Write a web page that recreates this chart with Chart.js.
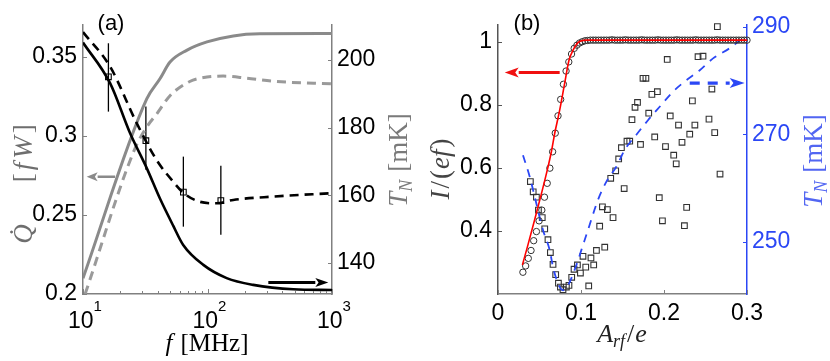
<!DOCTYPE html>
<html>
<head>
<meta charset="utf-8">
<script src="https://cdn.jsdelivr.net/npm/chart.js@4.4.1/dist/chart.umd.min.js"></script>
<style>
	body { margin: 0; background: #fff; }
	canvas { position: absolute; top: 0; }
</style>
</head>
<body>
<canvas id="chartA" width="415" height="361" style="left:0"></canvas>
<canvas id="chartB" width="415" height="361" style="left:415px"></canvas>
<script>
// ---------- panel (a) data ----------
// heat flow Q (left axis), grey curves
const fQSolid = [10, 32.5, 41.5, 50, 68, 99, 161, 263, 1000]
const qSolid = [0.210, 0.3233, 0.336, 0.3466, 0.354, 0.3593, 0.3631, 0.3644, 0.3646]
const fQDashed = [10.4, 26, 32.8, 39, 50, 72, 99, 134, 206, 359, 1000]
const qDashed = [0.200, 0.2915, 0.306, 0.3137, 0.3253, 0.3343, 0.3371, 0.3377, 0.3364, 0.3343, 0.3328]
// electron temperature T_N (right axis), black curves
const fTSolid = [10, 16.5, 23.9, 32.5, 41.5, 53, 63.8, 92.6, 142.6, 233, 489, 1000]
const tSolid = [205.1, 193.1, 178.3, 168, 159, 151, 145.3, 139.4, 135.5, 133.5, 132.2, 132.0]
const fTDashed = [10, 16.5, 27, 39, 53, 65, 86, 118, 161, 338, 1000]
const tDashed = [208.2, 198, 181.3, 170.4, 164, 160.5, 158.1, 157.6, 158.6, 159.6, 160.6]
// measured points with error bars
const fMeas = [16, 32, 64, 128]
const tMeas = [195, 176.1, 160.9, 158.4]
const tErrLo = [184.7, 167.5, 150.7, 148.3]
const tErrHi = [204.9, 186.2, 171.4, 168.7]
// ticks
const fTicks = [10, 100, 1000]
const fTickExp = ['1', '2', '3']
const fMinor = [20, 30, 40, 50, 60, 70, 80, 90, 200, 300, 400, 500, 600, 700, 800, 900]
const qTicks = [0.2, 0.25, 0.3, 0.35]
const tTicksA = [140, 160, 180, 200]
// arrows [x1, y1, x2, y2] in data units
const arrowQ = [18.1, 0.2741, 10.7, 0.2741]
const arrowT = [308, 134.2, 934, 134.2]

// ---------- panel (b) data ----------
const aCirc = [0.0300, 0.0333, 0.0365, 0.0398, 0.0430, 0.0463, 0.0495, 0.0528, 0.0560, 0.0593,
	0.0625, 0.0658, 0.0690, 0.0723, 0.0755, 0.0788, 0.0820, 0.0853, 0.0886, 0.0918,
	0.0951, 0.0983, 0.1016, 0.1048, 0.1081, 0.1113, 0.1146, 0.1178, 0.1211, 0.1243,
	0.1276, 0.1308, 0.1341, 0.1373, 0.1406, 0.1439, 0.1471, 0.1504, 0.1536, 0.1569,
	0.1601, 0.1634, 0.1666, 0.1699, 0.1731, 0.1764, 0.1796, 0.1829, 0.1861, 0.1894,
	0.1927, 0.1959, 0.1992, 0.2024, 0.2057, 0.2089, 0.2122, 0.2154, 0.2187, 0.2219,
	0.2252, 0.2284, 0.2317, 0.2349, 0.2382, 0.2414, 0.2447, 0.2480, 0.2512, 0.2545,
	0.2577, 0.2610, 0.2642, 0.2675, 0.2707, 0.2740, 0.2772, 0.2805, 0.2837, 0.2870,
	0.2902, 0.2935, 0.2967, 0.3000]
const iCirc = [0.269, 0.289, 0.313, 0.338, 0.369, 0.398, 0.432, 0.466, 0.507, 0.551,
	0.599, 0.651, 0.710, 0.765, 0.817, 0.865, 0.907, 0.936, 0.961, 0.979,
	0.989, 0.996, 1.000, 1.003, 1.004, 1.005, 1.005, 1.005, 1.005, 1.005,
	1.005, 1.005, 1.005, 1.006, 1.005, 1.005, 1.005, 1.005, 1.006, 1.005,
	1.005, 1.005, 1.005, 1.005, 1.006, 1.005, 1.005, 1.005, 1.005, 1.005,
	1.006, 1.005, 1.005, 1.005, 1.005, 1.005, 1.005, 1.006, 1.005, 1.005,
	1.005, 1.005, 1.005, 1.005, 1.006, 1.005, 1.005, 1.005, 1.005, 1.005,
	1.005, 1.005, 1.006, 1.005, 1.005, 1.005, 1.005, 1.005, 1.005, 1.005,
	1.005, 1.005, 1.005, 1.005]
// red fit of I/(ef)
const aFit = [0.0294, 0.0360, 0.0440, 0.0520, 0.0600, 0.0643, 0.0683, 0.0743, 0.0803, 0.0856, 0.0904, 0.0964, 0.1065, 0.3000]
const iFit = [0.292, 0.355, 0.434, 0.515, 0.600, 0.651, 0.709, 0.783, 0.868, 0.942, 0.973, 0.997, 1.005, 1.005]
// T_N squares (right axis)
const aSq = [0.0390, 0.0424, 0.0463, 0.0487, 0.0533, 0.0563, 0.0602, 0.0631, 0.0663, 0.0695,
	0.0728, 0.0752, 0.0783, 0.0824, 0.0855, 0.0888, 0.0916, 0.0957, 0.0993, 0.1024,
	0.1057, 0.1093, 0.1120, 0.1153, 0.1186, 0.1286, 0.1225, 0.1258, 0.1318, 0.1386,
	0.1358, 0.1418, 0.1454, 0.1487, 0.1520, 0.1554, 0.1587, 0.1614, 0.1651, 0.1681,
	0.1717, 0.1747, 0.1782, 0.1816, 0.1854, 0.1888, 0.1920, 0.1943, 0.1981, 0.2018,
	0.2039, 0.2075, 0.2117, 0.2147, 0.2175, 0.2217, 0.2246, 0.2273, 0.2310, 0.2342,
	0.2372, 0.2410, 0.2470, 0.2542, 0.2577, 0.2611, 0.2643, 0.2675]
const tSq = [261.2, 259.3, 258.3, 255.9, 254.5, 252.4, 250.4, 248.0, 245.8, 243.9,
	242.3, 241.6, 241.1, 241.6, 241.9, 243.4, 244.9, 245.7, 244.2, 247.3,
	245.3, 241.8, 247.0, 245.7, 248.4, 249.0, 252.9, 256.5, 256.0, 254.5,
	261.8, 263.2, 265.4, 267.5, 259.9, 268.7, 268.7, 272.7, 275.0, 275.9,
	268.1, 280.4, 280.4, 273.9, 277.4, 269.5, 277.9, 258.2, 253.9, 267.7,
	283.9, 273.4, 266.1, 264.5, 271.7, 268.5, 253.0, 256.4, 270.0, 276.2,
	271.7, 284.4, 284.5, 272.8, 278.4, 270.3, 290.0, 262.6]
// blue dashed fit of T_N
const aTFit = [0.0301, 0.0382, 0.0442, 0.0542, 0.0622, 0.0663, 0.0723, 0.0783, 0.0843, 0.0945,
	0.1005, 0.1084, 0.1205, 0.1306, 0.1427, 0.1527, 0.1667, 0.1807, 0.1948, 0.2108,
	0.2249, 0.2431, 0.2591, 0.2793, 0.2953, 0.3000]
const tTFit = [266.1, 262.1, 258.4, 252.2, 248.5, 245.3, 242.3, 241.0, 241.9, 245.7,
	248.5, 252.2, 257.8, 261.2, 264.0, 267.1, 269.9, 272.6, 275.1, 277.9,
	279.8, 281.9, 284.1, 286.0, 287.8, 288.1]
const aTicks = [0, 0.1, 0.2, 0.3]
const iTicks = [0.4, 0.6, 0.8, 1]
const tTicksB = [250, 270, 290]
const arrowI = [0.0743, 0.902, 0.0081, 0.902]
const arrowTB = [0.2310, 279.5, 0.2972, 279.5]

// ---------- helpers ----------
const pts = (xs, ys) => xs.map((x, i) => ({ x: x, y: ys[i] }))
const tickFont = { family: '"Liberation Sans", Arial, sans-serif', size: 23 }
const sans = '"Liberation Sans", Arial, sans-serif'
const serif = '"Liberation Serif", "DejaVu Serif", serif'
const fixTicks = vals => s => { s.ticks = vals.map(v => ({ value: v })) }

function drawRich(ctx, segs, cx, cy, rot, color) {
	ctx.save()
	ctx.translate(cx, cy)
	if (rot) ctx.rotate(rot)
	ctx.fillStyle = color
	ctx.textAlign = 'left'
	ctx.textBaseline = 'alphabetic'
	let w = 0
	segs.forEach(s => { ctx.font = s.font; s.w = ctx.measureText(s.text).width; w += s.w + (s.gap || 0) })
	let x = -w / 2
	segs.forEach(s => { ctx.font = s.font; ctx.fillText(s.text, x, 9 + (s.dy || 0)); x += s.w + (s.gap || 0) })
	ctx.restore()
}

function drawArrow(ctx, x1, y1, x2, y2, color, width, dash, headLen, headW) {
	const ang = Math.atan2(y2 - y1, x2 - x1)
	const bx = x2 - headLen * Math.cos(ang), by = y2 - headLen * Math.sin(ang)
	ctx.save()
	ctx.strokeStyle = color
	ctx.fillStyle = color
	ctx.lineWidth = width
	ctx.setLineDash(dash || [])
	ctx.beginPath()
	ctx.moveTo(x1, y1)
	ctx.lineTo(bx, by)
	ctx.stroke()
	ctx.setLineDash([])
	ctx.beginPath()
	ctx.moveTo(x2, y2)
	ctx.lineTo(bx + headW / 2 * Math.sin(ang), by - headW / 2 * Math.cos(ang))
	ctx.lineTo(bx + headLen * 0.25 * Math.cos(ang), by + headLen * 0.25 * Math.sin(ang))
	ctx.lineTo(bx - headW / 2 * Math.sin(ang), by + headW / 2 * Math.cos(ang))
	ctx.closePath()
	ctx.fill()
	ctx.restore()
}

// inward tick marks
function innerTicks(ctx, chart, scale, values, len, color, side) {
	const a = chart.chartArea
	ctx.save()
	ctx.strokeStyle = color
	ctx.lineWidth = 1
	values.forEach(v => {
		const p = Math.round(scale.getPixelForValue(v)) + 0.5
		ctx.beginPath()
		if (side === 'left') { ctx.moveTo(a.left, p); ctx.lineTo(a.left + len, p) }
		if (side === 'right') { ctx.moveTo(a.right, p); ctx.lineTo(a.right - len, p) }
		if (side === 'bottom') { ctx.moveTo(p, a.bottom); ctx.lineTo(p, a.bottom - len) }
		ctx.stroke()
	})
	ctx.restore()
}

Chart.defaults.animation = false
Chart.defaults.events = []
Chart.defaults.plugins.legend.display = false
Chart.defaults.plugins.tooltip.enabled = false

// ---------- panel (a) ----------
const decorA = {
	id: 'decorA',
	beforeDatasetsDraw(chart) {
		const { ctx, scales: { x, yR } } = chart
		ctx.save()
		ctx.strokeStyle = '#000'
		ctx.lineWidth = 1.3
		fMeas.forEach((f, i) => {
			const px = x.getPixelForValue(f)
			ctx.beginPath()
			ctx.moveTo(px, yR.getPixelForValue(tErrLo[i]))
			ctx.lineTo(px, yR.getPixelForValue(tErrHi[i]))
			ctx.stroke()
		})
		ctx.restore()
	},
	afterDraw(chart) {
		const { ctx, scales: { x, yL, yR } } = chart
		innerTicks(ctx, chart, x, fTicks, 5, '#808080', 'bottom')
		innerTicks(ctx, chart, x, fMinor, 3, '#808080', 'bottom')
		innerTicks(ctx, chart, yL, qTicks, 4, '#808080', 'left')
		innerTicks(ctx, chart, yR, tTicksA, 4, '#808080', 'right')
		// 10^n tick labels
		fTicks.forEach((f, i) => {
			ctx.save()
			ctx.fillStyle = '#000'
			ctx.textBaseline = 'alphabetic'
			ctx.font = '23px ' + sans
			const wb = ctx.measureText('10').width
			ctx.font = '15px ' + sans
			const we = ctx.measureText(fTickExp[i]).width
			const x0 = x.getPixelForValue(f) - (wb + we) / 2 + 2
			ctx.font = '23px ' + sans
			ctx.fillText('10', x0, 328)
			ctx.font = '15px ' + sans
			ctx.fillText(fTickExp[i], x0 + wb, 311)
			ctx.restore()
		})
		drawArrow(ctx, x.getPixelForValue(arrowQ[0]), yL.getPixelForValue(arrowQ[1]),
			x.getPixelForValue(arrowQ[2]), yL.getPixelForValue(arrowQ[3]), '#8a8a8a', 2.5, null, 11, 9)
		drawArrow(ctx, x.getPixelForValue(arrowT[0]), yR.getPixelForValue(arrowT[1]),
			x.getPixelForValue(arrowT[2]), yR.getPixelForValue(arrowT[3]), '#000', 3, null, 13, 9)
		// titles
		ctx.save()
		ctx.fillStyle = '#000'
		ctx.font = '22px ' + sans
		ctx.textAlign = 'center'
		ctx.textBaseline = 'middle'
		ctx.fillText('(a)', 111, 24)
		ctx.restore()
		drawRich(ctx, [
			{ text: 'Q\u0307', font: 'italic 27px ' + serif, gap: 42 },
			{ text: '[', font: '27px ' + serif, gap: 3 },
			{ text: 'f', font: 'italic 27px ' + serif, gap: 4 },
			{ text: 'W', font: 'italic 27px ' + serif, gap: 3 },
			{ text: ']', font: '27px ' + serif }
		], 23, 184, -Math.PI / 2, '#6e6e6e')
		drawRich(ctx, [
			{ text: 'T', font: 'italic 27px ' + serif },
			{ text: 'N', font: 'italic 18px ' + serif, dy: 5, gap: 8 },
			{ text: '[mK]', font: '27px ' + serif }
		], 398, 160, -Math.PI / 2, '#7a7a7a')
		drawRich(ctx, [
			{ text: 'f', font: 'italic 25px ' + serif, gap: 8 },
			{ text: '[MHz]', font: '25px ' + serif }
		], 207, 342, 0, '#000')
	}
}

new Chart(document.getElementById('chartA'), {
	type: 'line',
	data: {
		datasets: [
			{ data: pts(fMeas, tMeas), yAxisID: 'yR', showLine: false, pointStyle: 'rect', pointRadius: 4,
				borderColor: '#000', borderWidth: 1.1, backgroundColor: 'rgba(0,0,0,0)', clip: false, order: 1 },
			{ data: pts(fTDashed, tDashed), yAxisID: 'yR', borderColor: '#000', borderWidth: 2.6,
				borderDash: [9, 6], pointRadius: 0, cubicInterpolationMode: 'monotone', order: 2 },
			{ data: pts(fTSolid, tSolid), yAxisID: 'yR', borderColor: '#000', borderWidth: 2.6,
				pointRadius: 0, cubicInterpolationMode: 'monotone', order: 3 },
			{ data: pts(fQDashed, qDashed), yAxisID: 'yL', borderColor: '#9a9a9a', borderWidth: 3,
				borderDash: [9, 6], pointRadius: 0, cubicInterpolationMode: 'monotone', order: 4 },
			{ data: pts(fQSolid, qSolid), yAxisID: 'yL', borderColor: '#8a8a8a', borderWidth: 3,
				pointRadius: 0, cubicInterpolationMode: 'monotone', order: 5 }
		]
	},
	options: {
		responsive: false,
		devicePixelRatio: 1,
		layout: { padding: { top: 25, left: 0, right: 0, bottom: 0 } },
		scales: {
			x: {
				type: 'logarithmic', min: 10, max: 1000,
				grid: { display: false, drawTicks: false },
				border: { color: '#808080', width: 1.5 },
				ticks: { display: false },
				afterBuildTicks: fixTicks(fTicks),
				afterFit: s => { s.height = 67 }
			},
			yL: {
				position: 'left', min: 0.2, max: 0.37,
				grid: { display: false, drawTicks: false },
				border: { color: '#808080', width: 1.5 },
				ticks: { color: '#000', font: tickFont, padding: 6, callback: v => String(v) },
				afterBuildTicks: fixTicks(qTicks),
				afterFit: s => { s.width = 83 }
			},
			yR: {
				position: 'right', min: 130.8, max: 210.3,
				grid: { display: false, drawTicks: false },
				border: { color: '#808080', width: 1.5 },
				ticks: { color: '#000', font: tickFont, padding: 5, callback: v => String(v) },
				afterBuildTicks: fixTicks(tTicksA),
				afterFit: s => { s.width = 83 }
			}
		}
	},
	plugins: [decorA]
})

// ---------- panel (b) ----------
const blue = '#2b47f5'
const decorB = {
	id: 'decorB',
	afterDraw(chart) {
		const { ctx, scales: { x, yL, yR } } = chart
		innerTicks(ctx, chart, x, aTicks, 4, '#808080', 'bottom')
		innerTicks(ctx, chart, yL, iTicks, 4, '#555', 'left')
		innerTicks(ctx, chart, yR, tTicksB, 4, blue, 'right')
		drawArrow(ctx, x.getPixelForValue(arrowI[0]), yL.getPixelForValue(arrowI[1]),
			x.getPixelForValue(arrowI[2]), yL.getPixelForValue(arrowI[3]), '#f01010', 3, null, 14, 10)
		drawArrow(ctx, x.getPixelForValue(arrowTB[0]), yR.getPixelForValue(arrowTB[1]),
			x.getPixelForValue(arrowTB[2]), yR.getPixelForValue(arrowTB[3]), blue, 3.2, [10, 8], 15, 10)
		ctx.save()
		ctx.fillStyle = '#000'
		ctx.font = '22px ' + sans
		ctx.textAlign = 'center'
		ctx.textBaseline = 'middle'
		ctx.fillText('(b)', 112, 24)
		ctx.restore()
		drawRich(ctx, [
			{ text: 'I', font: 'italic 27px ' + serif, gap: 2 },
			{ text: '/', font: '27px ' + serif, gap: 2 },
			{ text: '(', font: '27px ' + serif, gap: 1 },
			{ text: 'ef', font: 'italic 27px ' + serif, gap: 2 },
			{ text: ')', font: '27px ' + serif }
		], 25, 169, -Math.PI / 2, '#444')
		drawRich(ctx, [
			{ text: 'T', font: 'italic 27px ' + serif },
			{ text: 'N', font: 'italic 18px ' + serif, dy: 5, gap: 8 },
			{ text: '[mK]', font: '27px ' + serif }
		], 398, 161, -Math.PI / 2, '#5266f2')
		drawRich(ctx, [
			{ text: 'A', font: 'italic 26px ' + serif },
			{ text: 'rf', font: 'italic 18px ' + serif, dy: 5, gap: 2 },
			{ text: '/', font: '26px ' + serif, gap: 1 },
			{ text: 'e', font: 'italic 26px ' + serif }
		], 207, 333, 0, '#222')
	}
}

new Chart(document.getElementById('chartB'), {
	type: 'line',
	data: {
		datasets: [
			{ data: pts(aFit, iFit), yAxisID: 'yL', borderColor: '#ff0000', borderWidth: 1.6,
				pointRadius: 0, cubicInterpolationMode: 'monotone', order: 1 },
			{ data: pts(aCirc, iCirc), yAxisID: 'yL', showLine: false, pointStyle: 'circle', pointRadius: 3.2,
				borderColor: '#333', borderWidth: 1, backgroundColor: 'rgba(0,0,0,0)', clip: false, order: 2 },
			{ data: pts(aTFit, tTFit), yAxisID: 'yR', borderColor: blue, borderWidth: 1.8,
				borderDash: [8, 7], pointRadius: 0, cubicInterpolationMode: 'monotone', order: 4 },
			{ data: pts(aSq, tSq), yAxisID: 'yR', showLine: false, pointStyle: 'rect', pointRadius: 4,
				borderColor: '#333', borderWidth: 1.1, backgroundColor: 'rgba(0,0,0,0)', clip: false, order: 5 }
		]
	},
	options: {
		responsive: false,
		devicePixelRatio: 1,
		layout: { padding: { top: 25, left: 0, right: 0, bottom: 0 } },
		scales: {
			x: {
				type: 'linear', min: 0, max: 0.3,
				grid: { display: false, drawTicks: false },
				border: { color: '#808080', width: 1.5 },
				ticks: { color: '#000', font: tickFont, padding: 6, callback: v => String(v) },
				afterBuildTicks: fixTicks(aTicks),
				afterFit: s => { s.height = 67 }
			},
			yL: {
				position: 'left', min: 0.2, max: 1.053,
				grid: { display: false, drawTicks: false },
				border: { color: '#555', width: 1.5 },
				ticks: { color: '#000', font: tickFont, padding: 6, callback: v => String(v) },
				afterBuildTicks: fixTicks(iTicks),
				afterFit: s => { s.width = 83 }
			},
			yR: {
				position: 'right', min: 240.3, max: 290.3,
				grid: { display: false, drawTicks: false },
				border: { color: blue, width: 1.5 },
				ticks: { color: blue, font: tickFont, padding: 5, callback: v => String(v) },
				afterBuildTicks: fixTicks(tTicksB),
				afterFit: s => { s.width = 83 }
			}
		}
	},
	plugins: [decorB]
})
</script>
</body>
</html>
